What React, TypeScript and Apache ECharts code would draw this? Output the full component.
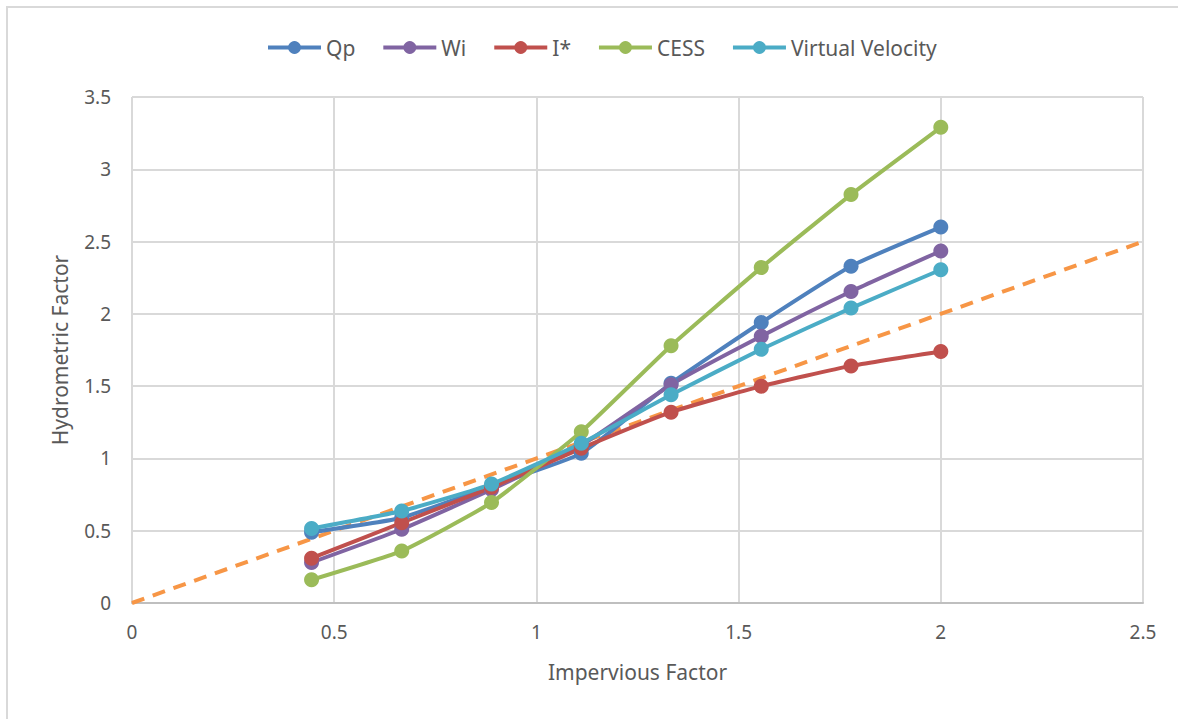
import React, { useEffect, useRef } from "react";
import * as echarts from "echarts";

const xValues = [0.444, 0.667, 0.889, 1.111, 1.333, 1.556, 1.778, 2.0];
const qp = [0.49, 0.59, 0.81, 1.035, 1.52, 1.94, 2.33, 2.6];
const wi = [0.28, 0.51, 0.785, 1.09, 1.51, 1.845, 2.155, 2.435];
const iStar = [0.31, 0.555, 0.8, 1.07, 1.32, 1.5, 1.64, 1.74];
const cess = [0.16, 0.36, 0.695, 1.185, 1.78, 2.32, 2.825, 3.29];
const virtualVelocity = [0.515, 0.636, 0.823, 1.105, 1.44, 1.755, 2.04, 2.305];
const refLine = [[0, 0], [2.5, 2.5]];

const seriesNames = ["Qp", "Wi", "I*", "CESS", "Virtual Velocity"];
const seriesData = [qp, wi, iStar, cess, virtualVelocity];
const seriesColors = ["#4F81BD", "#8064A2", "#C0504D", "#9BBB59", "#4BACC6"];

const FONT = "'Noto Sans', 'Open Sans', sans-serif";

export default function App() {
  const ref = useRef<HTMLDivElement>(null);
  useEffect(() => {
    document.body.style.margin = "0";
    const chart = echarts.init(ref.current!, null, { renderer: "svg" });
    const lineSeries = seriesNames.map((name, i) => ({
      name,
      type: "line",
      data: xValues.map((x, j) => [x, seriesData[i][j]]),
      symbol: "circle",
      symbolSize: 15,
      smooth: 0.15,
      itemStyle: { color: seriesColors[i] },
      lineStyle: { color: seriesColors[i], width: 4 },
      z: 3,
    }));
    chart.setOption({
      animation: false,
      backgroundColor: "#ffffff",
      textStyle: { fontFamily: FONT },
      graphic: [
        {
          type: "rect",
          shape: { x: 7, y: 7, width: 1300, height: 900 },
          style: { fill: "none", stroke: "#D9D9D9", lineWidth: 2 },
          silent: true,
        },
      ],
      legend: {
        data: seriesNames,
        top: 32,
        left: 261,
        itemWidth: 53,
        itemHeight: 16,
        itemGap: 26,
        lineStyle: { width: 4 },
        textStyle: { color: "#595959", fontSize: 21, fontFamily: FONT },
      },
      grid: { left: 132, right: 35, top: 97, bottom: 116 },
      xAxis: {
        type: "value",
        min: 0,
        max: 2.5,
        interval: 0.5,
        name: "Impervious Factor",
        nameLocation: "middle",
        nameGap: 58,
        nameTextStyle: { color: "#595959", fontSize: 21, fontFamily: FONT },
        axisLine: { show: true, lineStyle: { color: "#BFBFBF", width: 2 } },
        axisTick: { show: false },
        axisLabel: { color: "#595959", fontSize: 19, margin: 19, fontFamily: FONT },
        splitLine: { show: true, lineStyle: { color: "#D9D9D9", width: 2 } },
      },
      yAxis: {
        type: "value",
        min: 0,
        max: 3.5,
        interval: 0.5,
        name: "Hydrometric Factor",
        nameLocation: "middle",
        nameGap: 62,
        nameTextStyle: { color: "#595959", fontSize: 21, fontFamily: FONT },
        axisLine: { show: false },
        axisTick: { show: false },
        axisLabel: { color: "#595959", fontSize: 19, margin: 21, fontFamily: FONT },
        splitLine: { show: true, lineStyle: { color: "#D9D9D9", width: 2 } },
      },
      series: [
        {
          name: "ref",
          type: "line",
          data: refLine,
          symbol: "none",
          lineStyle: { color: "#F79646", width: 4, type: [13, 9] },
          z: 2,
          silent: true,
        },
        ...lineSeries,
      ],
    });
    return () => chart.dispose();
  }, []);
  return <div ref={ref} style={{ width: 1178, height: 719 }} />;
}
